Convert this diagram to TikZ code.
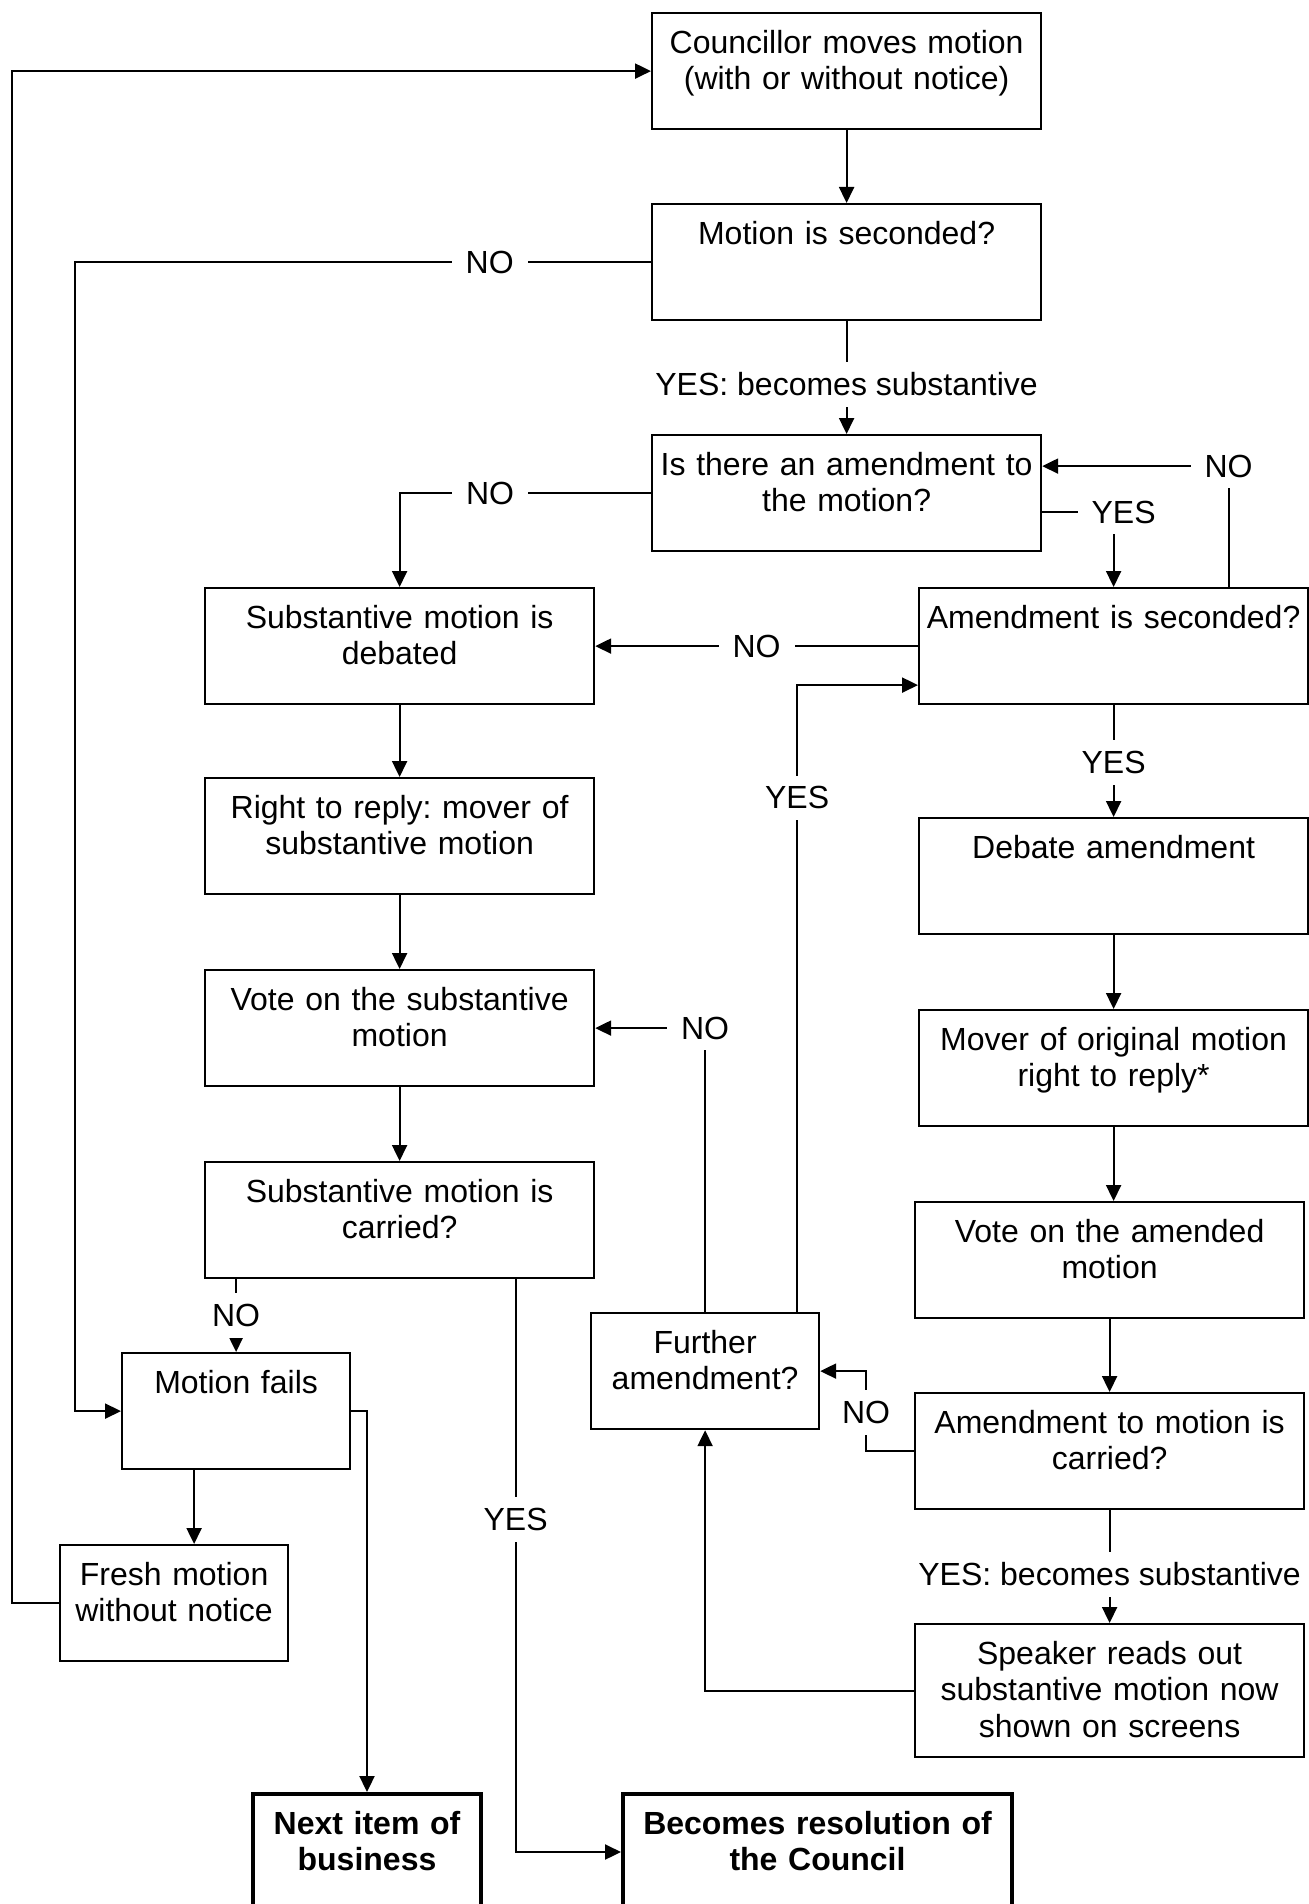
\documentclass[tikz,border=0pt]{standalone}
\usepackage{fontspec}
\setmainfont{Liberation Sans}
\usetikzlibrary{arrows.meta}
\frenchspacing

\begin{document}
\begin{tikzpicture}[x=0.5pt,y=-0.5pt,>={Triangle[length=8pt,width=7.5pt]},line width=1.1pt,
    font=\fontsize{16}{18.4}\selectfont,
    box/.style={draw,anchor=north west,align=center,text width=194.5pt,inner sep=0pt,text height=20pt,text depth=38pt},
    sbox/.style={box,text width=114pt},
    endbox/.style={box,line width=2pt,font=\fontsize{16}{18.4}\selectfont\bfseries},
    lbl/.style={fill=white,inner xsep=7pt,inner ysep=5.5pt}]
    \useasboundingbox (0,0) rectangle (1308,1904);
    % motion and its seconder
    \node (Co) at (651,12) [box] {Councillor moves motion\\(with or without notice)};
    \node (Se) at (651,203) [box] {Motion is seconded?} edge [<-] (Co);
    \node (Am) at (651,434) [box] {Is there an amendment to\\the motion?};
    % left column: substantive motion
    \node (Sd) at (204,587) [box] {Substantive motion is\\debated};
    \node (Rr) at (204,777) [box] {Right to reply: mover of\\substantive motion} edge [<-] (Sd);
    \node (Vs) at (204,969) [box] {Vote on the substantive\\motion} edge [<-] (Rr);
    \node (Sc) at (204,1161) [box] {Substantive motion is\\carried?} edge [<-] (Vs);
    \node (Mf) at (121,1352) [sbox] {Motion fails};
    \node (Fm) at (59,1544) [sbox] {Fresh motion\\without notice};
    % right column: amendment
    \node (As) at (918,587) [box] {Amendment is seconded?};
    \node (Da) at (918,817) [box] {Debate amendment};
    \node (Mo) at (918,1009) [box] {Mover of original motion\\right to reply*} edge [<-] (Da);
    \node (Va) at (914,1201) [box] {Vote on the amended\\motion};
    \node (Ac) at (914,1392) [box] {Amendment to motion is\\carried?} edge [<-] (Va);
    \node (Sp) at (914,1623) [box,text depth=46.5pt] {Speaker reads out\\substantive motion now\\shown on screens};
    \node (Fa) at (590,1312) [sbox] {Further\\amendment?};
    % outcomes
    \node (Ni) at (251,1792) [endbox,text width=114pt] {Next item of\\business};
    \node (Br) at (621,1792) [endbox] {Becomes resolution of\\the Council};

    \draw[->] (Se) -- node[lbl,pos=.56]{YES: becomes substantive} (Am);
    \draw[->] (Se.west) -- node[lbl,pos=.28]{NO} ++(-576,0) |- (Mf.west);
    \draw[->] (Am.west) -| node[lbl,pos=.32]{NO} (Sd.north);
    \draw[->] ([yshift=-9.5pt]Am.east) -| node[lbl,xshift=5pt]{YES} (As.north);
    \draw[->] ([xshift=57.5pt]As.north) |- node[lbl]{NO} ([yshift=13.5pt]Am.east);
    \draw[->] (As.west) -- node[lbl]{NO} (Sd.east);
    \draw[->] (As) -- node[lbl,pos=.51]{YES} (Da);
    \draw[->] (Mo.south) -- (Mo.south |- Va.north);
    \draw[->] (Ac) -- node[lbl,pos=.57]{YES: becomes substantive} (Sp);
    \draw[->] (Ac.west) -- ++(-48,0) |- node[lbl,pos=.24]{NO} (Fa.east);
    \draw[->] (Sp.west) -| (Fa.south);
    \draw[->] (Fa.north) |- node[lbl]{NO} (Vs.east);
    \draw[->] ([xshift=46pt]Fa.north) |- node[lbl,pos=.41]{YES} ([yshift=-19.5pt]As.west);
    \draw[->] (Sc.south -| Mf.north) -- node[lbl]{NO} (Mf.north);
    \draw[->] ([xshift=58pt]Sc.south) |- node[lbl,pos=.21]{YES} (Br.west);
    \draw[->] ([xshift=-21pt]Mf.south) -- ([xshift=-21pt]Mf.south |- Fm.north);
    \draw[->] (Mf.east) -| (Ni.north);
    \draw[->] (Fm.west) -- ++(-47,0) |- (Co.west);
\end{tikzpicture}
\end{document}
